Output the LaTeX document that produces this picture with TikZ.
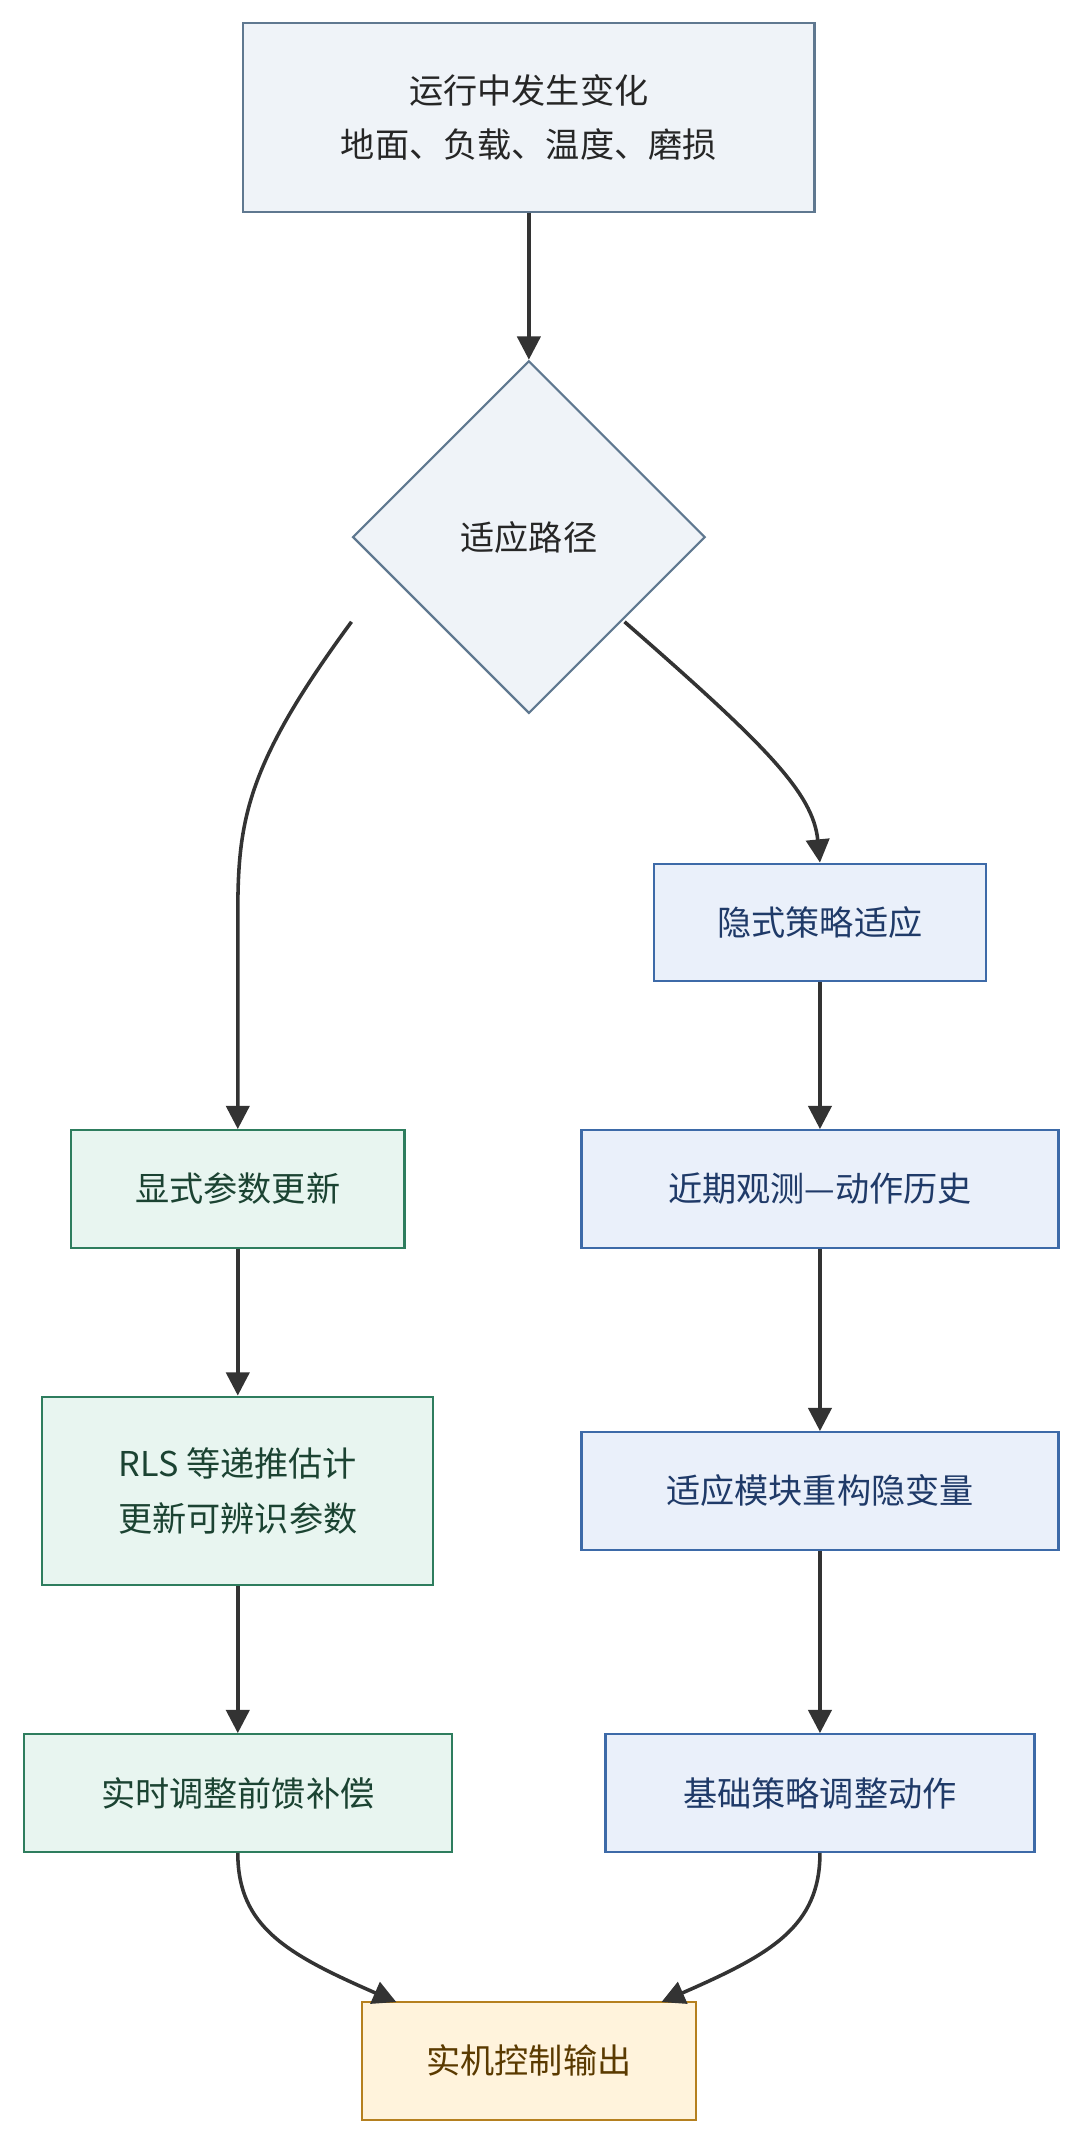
\documentclass[tikz,border=0pt]{standalone}
\usepackage{fontspec}
\setmainfont{Noto Sans CJK SC}
\usetikzlibrary{shapes.geometric,arrows.meta}
\definecolor{topfill}{HTML}{EFF3F8}\definecolor{topline}{HTML}{5F7890}
\definecolor{grnfill}{HTML}{E8F5F0}\definecolor{grnline}{HTML}{2E7D5E}\definecolor{grntext}{HTML}{1B4332}
\definecolor{blufill}{HTML}{EAF0FA}\definecolor{bluline}{HTML}{3D6AA8}\definecolor{blutext}{HTML}{1F3A68}
\definecolor{yelfill}{HTML}{FFF3DC}\definecolor{yelline}{HTML}{B5801F}\definecolor{yeltext}{HTML}{5A3A00}
\definecolor{edge}{HTML}{333333}
\begin{document}
\begin{tikzpicture}[x=1pt,y=-1pt,
    every node/.style={font=\fontsize{25}{40}\selectfont, align=center, line width=1.6pt, inner sep=0pt},
    topbox/.style={draw=topline, fill=topfill, text=black!85},
    grnbox/.style={draw=grnline, fill=grnfill, text=grntext},
    blubox/.style={draw=bluline, fill=blufill, text=blutext},
    yelbox/.style={draw=yelline, fill=yelfill, text=yeltext},
    flow/.style={draw=edge, line width=2.6pt, -{Triangle[length=17pt,width=17pt]}}]
    \useasboundingbox (0,0) rectangle (790,1563);
    % start and decision
    \node[topbox, minimum width=418, minimum height=138] (change) at (387,86) {运行中发生变化\\地面、负载、温度、磨损};
    \node[topbox, diamond, minimum width=258, minimum height=258] (route) at (387,393) {适应路径};
    % explicit path
    \node[grnbox, minimum width=244, minimum height=86] (explicit) at (174,870) {显式参数更新};
    \node[grnbox, minimum width=286, minimum height=138] (rls) at (174,1091) {RLS 等递推估计\\更新可辨识参数};
    \node[grnbox, minimum width=313, minimum height=86] (feed) at (174,1312) {实时调整前馈补偿};
    % implicit path
    \node[blubox, minimum width=243, minimum height=86] (implicit) at (600,675) {隐式策略适应};
    \node[blubox, minimum width=349, minimum height=86] (history) at (600,870) {近期观测—动作历史};
    \node[blubox, minimum width=349, minimum height=86] (latent) at (600,1091) {适应模块重构隐变量};
    \node[blubox, minimum width=314, minimum height=86] (base) at (600,1312) {基础策略调整动作};
    \node[yelbox, minimum width=244, minimum height=86] (output) at (387,1508) {实机控制输出};
    % connectors
    \draw[flow] (change) -- (route);
    \draw[flow] (route.west |- 0,455) .. controls (180,560) and (174,600) .. (174,670) -- (explicit);
    \draw[flow] (457,455) .. controls (560,545) and (595,580) .. (implicit.north);
    \draw[flow] (implicit) -- (history);
    \draw[flow] (history) -- (latent);
    \draw[flow] (latent) -- (base);
    \draw[flow] (explicit) -- (rls);
    \draw[flow] (rls) -- (feed);
    \draw[flow] (feed.south) .. controls (174,1410) and (210,1430) .. (290,1465);
    \draw[flow] (base.south) .. controls (600,1410) and (564,1430) .. (484,1465);
\end{tikzpicture}
\end{document}
